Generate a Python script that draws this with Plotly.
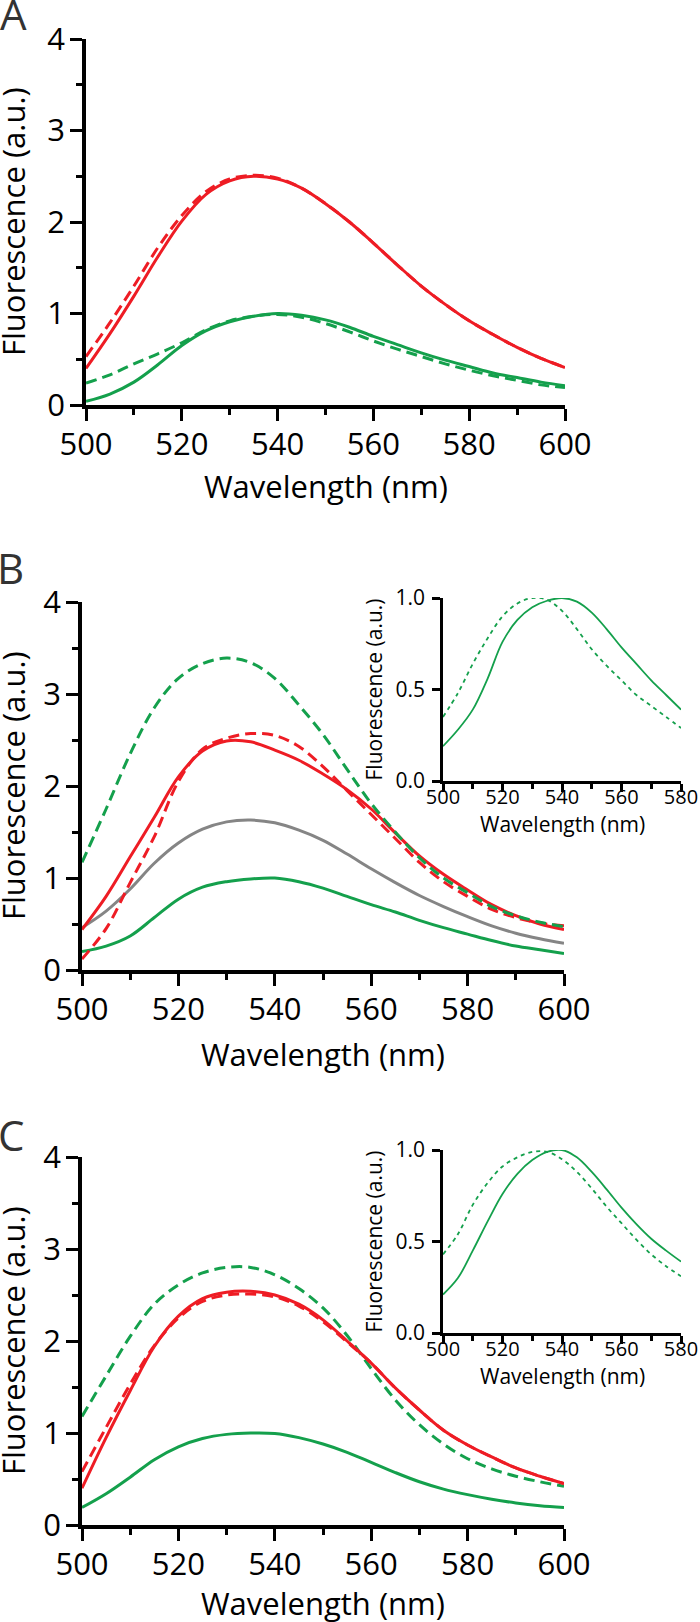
import plotly.graph_objects as go

# ---------------- data ----------------
wl = [500, 505, 510, 515, 520, 525, 530, 535, 540, 545, 550,
      555, 560, 565, 570, 575, 580, 585, 590, 595, 600]
wl_inset = [500, 505, 510, 515, 520, 525, 530, 535, 540, 545, 550,
            555, 560, 565, 570, 575, 580]

# Panel A
a_red_solid = [0.40, 0.78, 1.19, 1.62, 2.01, 2.30, 2.45, 2.50, 2.47, 2.37, 2.20,
               2.00, 1.77, 1.53, 1.30, 1.10, 0.92, 0.77, 0.63, 0.51, 0.41]
a_red_dash = [0.53, 0.90, 1.30, 1.72, 2.07, 2.33, 2.47, 2.51, 2.48, 2.37, 2.20,
              2.00, 1.77, 1.53, 1.30, 1.10, 0.92, 0.77, 0.63, 0.51, 0.41]
a_green_solid = [0.04, 0.12, 0.25, 0.44, 0.65, 0.81, 0.91, 0.97, 1.00, 0.98, 0.93,
                 0.85, 0.75, 0.66, 0.57, 0.49, 0.42, 0.35, 0.30, 0.25, 0.21]
a_green_dash = [0.24, 0.33, 0.45, 0.56, 0.68, 0.82, 0.92, 0.97, 0.99, 0.96, 0.89,
                0.80, 0.70, 0.61, 0.53, 0.45, 0.38, 0.32, 0.27, 0.22, 0.19]

# Panel B
b_green_dash = [1.17, 1.75, 2.35, 2.85, 3.17, 3.33, 3.39, 3.34, 3.17, 2.88, 2.56,
                2.18, 1.81, 1.50, 1.22, 1.00, 0.84, 0.69, 0.59, 0.52, 0.47]
b_red_solid = [0.44, 0.80, 1.23, 1.66, 2.10, 2.38, 2.49, 2.48, 2.39, 2.28, 2.13,
               1.96, 1.75, 1.49, 1.24, 1.04, 0.87, 0.71, 0.59, 0.50, 0.44]
b_red_dash = [0.12, 0.45, 0.95, 1.45, 2.05, 2.40, 2.52, 2.57, 2.55, 2.43, 2.21,
              1.95, 1.69, 1.43, 1.17, 0.96, 0.80, 0.66, 0.57, 0.51, 0.48]
b_gray = [0.46, 0.64, 0.88, 1.16, 1.38, 1.53, 1.61, 1.63, 1.60, 1.52, 1.41,
          1.26, 1.10, 0.95, 0.81, 0.69, 0.58, 0.48, 0.40, 0.34, 0.29]
b_green_solid = [0.20, 0.26, 0.37, 0.57, 0.77, 0.90, 0.96, 0.99, 1.00, 0.96, 0.89,
                 0.80, 0.71, 0.63, 0.54, 0.46, 0.39, 0.32, 0.26, 0.22, 0.18]
b_inset_solid = [0.19, 0.28, 0.39, 0.56, 0.76, 0.88, 0.95, 0.985, 1.00, 0.98, 0.92,
                 0.83, 0.73, 0.64, 0.55, 0.47, 0.39]
b_inset_dash = [0.35, 0.48, 0.64, 0.78, 0.90, 0.97, 1.00, 0.99, 0.93, 0.83, 0.72,
                0.63, 0.55, 0.47, 0.41, 0.35, 0.29]

# Panel C
c_green_dash = [1.18, 1.62, 2.05, 2.40, 2.61, 2.74, 2.80, 2.80, 2.72, 2.57, 2.36,
                2.06, 1.70, 1.36, 1.09, 0.88, 0.72, 0.61, 0.53, 0.47, 0.42]
c_red_solid = [0.40, 0.95, 1.46, 1.94, 2.27, 2.46, 2.53, 2.54, 2.50, 2.40, 2.23,
               2.00, 1.76, 1.49, 1.25, 1.03, 0.87, 0.74, 0.62, 0.53, 0.45]
c_red_dash = [0.58, 1.06, 1.53, 1.95, 2.25, 2.43, 2.50, 2.51, 2.48, 2.38, 2.21,
              1.99, 1.76, 1.49, 1.25, 1.03, 0.87, 0.74, 0.62, 0.53, 0.45]
c_green_solid = [0.19, 0.34, 0.52, 0.71, 0.85, 0.94, 0.985, 1.00, 0.995, 0.95, 0.88,
                 0.79, 0.68, 0.57, 0.47, 0.39, 0.33, 0.28, 0.24, 0.21, 0.19]
c_inset_solid = [0.21, 0.30, 0.45, 0.61, 0.76, 0.87, 0.945, 0.99, 1.00, 0.96, 0.88,
                 0.785, 0.685, 0.595, 0.515, 0.45, 0.39]
c_inset_dash = [0.43, 0.54, 0.70, 0.82, 0.91, 0.96, 0.99, 0.99, 0.95, 0.88, 0.79,
                0.69, 0.60, 0.51, 0.43, 0.365, 0.31]

main_xticks = [500, 520, 540, 560, 580, 600]
main_yticks = [0, 1, 2, 3, 4]
inset_xticks = [500, 520, 540, 560, 580]
inset_yticks = [0.0, 0.5, 1.0]
xtitle = "Wavelength (nm)"
ytitle = "Fluorescence (a.u.)"

# ---------------- style ----------------
W, H = 700, 1622
RED = "#ee1c24"
GREEN = "#14a04c"
GRAY = "#858585"
FONT = "Open Sans"


def dom_x(x0, x1):
    return [x0 / W, x1 / W]


def dom_y(y_top, y_bot):
    return [1 - y_bot / H, 1 - y_top / H]


fig = go.Figure()


def add_line(x, y, color, dash, xa, ya, width):
    fig.add_trace(go.Scatter(
        x=x, y=y, mode="lines", xaxis=xa, yaxis=ya,
        line=dict(color=color, width=width, dash=dash, shape="spline", smoothing=1.0),
        showlegend=False, hoverinfo="skip"))


MAIN_DASH = "11px,6px"
IN_DASH = "4px,4px"

# A
add_line(wl, a_green_dash, GREEN, MAIN_DASH, "x", "y", 3)
add_line(wl, a_green_solid, GREEN, "solid", "x", "y", 3)
add_line(wl, a_red_dash, RED, MAIN_DASH, "x", "y", 3)
add_line(wl, a_red_solid, RED, "solid", "x", "y", 3)
# B
add_line(wl, b_gray, GRAY, "solid", "x2", "y2", 3)
add_line(wl, b_green_solid, GREEN, "solid", "x2", "y2", 3)
add_line(wl, b_red_solid, RED, "solid", "x2", "y2", 3)
add_line(wl, b_red_dash, RED, MAIN_DASH, "x2", "y2", 3)
add_line(wl, b_green_dash, GREEN, MAIN_DASH, "x2", "y2", 3)
# C
add_line(wl, c_green_solid, GREEN, "solid", "x3", "y3", 3)
add_line(wl, c_green_dash, GREEN, MAIN_DASH, "x3", "y3", 3)
add_line(wl, c_red_dash, RED, MAIN_DASH, "x3", "y3", 3)
add_line(wl, c_red_solid, RED, "solid", "x3", "y3", 3)
# insets
add_line(wl_inset, b_inset_dash, GREEN, IN_DASH, "x4", "y4", 1.8)
add_line(wl_inset, b_inset_solid, GREEN, "solid", "x4", "y4", 1.8)
add_line(wl_inset, c_inset_dash, GREEN, IN_DASH, "x5", "y5", 1.8)
add_line(wl_inset, c_inset_solid, GREEN, "solid", "x5", "y5", 1.8)


def main_x(domain, anchor):
    return dict(domain=domain, anchor=anchor, range=[500, 600], tickvals=main_xticks,
                ticks="outside", ticklen=12, tickwidth=3, tickcolor="black",
                showline=True, linewidth=3.5, linecolor="black", showgrid=False,
                zeroline=False, tickfont=dict(family=FONT, size=31, color="black"),
                ticklabelstandoff=-3, automargin=False, ticklabeloverflow="allow",
                minor=dict(ticks="outside", ticklen=6, tickwidth=3, tickcolor="black",
                           dtick=10, tick0=500, showgrid=False))


def main_y(domain, anchor):
    return dict(domain=domain, anchor=anchor, range=[0, 4], tickvals=main_yticks,
                ticks="outside", ticklen=12, tickwidth=3, tickcolor="black",
                showline=True, linewidth=3.5, linecolor="black", showgrid=False,
                zeroline=False, tickfont=dict(family=FONT, size=31, color="black"),
                ticklabelstandoff=-1, automargin=False, ticklabeloverflow="allow",
                minor=dict(ticks="outside", ticklen=6, tickwidth=3, tickcolor="black",
                           dtick=0.5, tick0=0, showgrid=False))


def inset_x(domain, anchor):
    return dict(domain=domain, anchor=anchor, range=[500, 580], tickvals=inset_xticks,
                ticks="outside", ticklen=8, tickwidth=2.5, tickcolor="black",
                showline=True, linewidth=2.5, linecolor="black", showgrid=False,
                zeroline=False, tickfont=dict(family=FONT, size=20, color="black"),
                ticklabelstandoff=-12, automargin=False, ticklabeloverflow="allow",
                minor=dict(ticks="outside", ticklen=5, tickwidth=2.5, tickcolor="black",
                           dtick=10, tick0=500, showgrid=False))


def inset_y(domain, anchor):
    return dict(domain=domain, anchor=anchor, range=[0, 1], tickvals=inset_yticks,
                tickformat=".1f", ticks="outside", ticklen=8, tickwidth=2.5,
                tickcolor="black", showline=True, linewidth=2.5, linecolor="black",
                showgrid=False, zeroline=False, automargin=False,
                ticklabeloverflow="allow",
                tickfont=dict(family=FONT, size=21, color="black"),
                ticklabelstandoff=3)


A_box = (86, 565, 39, 405)
B_box = (82, 564, 602, 970)
C_box = (82, 564, 1157, 1525)
BI_box = (443, 681, 598, 781)
CI_box = (443, 681, 1150, 1333)

fig.update_layout(
    width=W, height=H,
    margin=dict(l=0, r=0, t=0, b=0, pad=0, autoexpand=False),
    paper_bgcolor="white", plot_bgcolor="rgba(0,0,0,0)", showlegend=False,
    xaxis=main_x(dom_x(A_box[0], A_box[1]), "y"),
    yaxis=main_y(dom_y(A_box[2], A_box[3]), "x"),
    xaxis2=main_x(dom_x(B_box[0], B_box[1]), "y2"),
    yaxis2=main_y(dom_y(B_box[2], B_box[3]), "x2"),
    xaxis3=main_x(dom_x(C_box[0], C_box[1]), "y3"),
    yaxis3=main_y(dom_y(C_box[2], C_box[3]), "x3"),
    xaxis4=inset_x(dom_x(BI_box[0], BI_box[1]), "y4"),
    yaxis4=inset_y(dom_y(BI_box[2], BI_box[3]), "x4"),
    xaxis5=inset_x(dom_x(CI_box[0], CI_box[1]), "y5"),
    yaxis5=inset_y(dom_y(CI_box[2], CI_box[3]), "x5"),
)


def ann(text, x, y, size, color="black", angle=0):
    fig.add_annotation(text=text, x=x / W, y=1 - y / H, xref="paper", yref="paper",
                       showarrow=False, textangle=angle, xanchor="center",
                       yanchor="middle", borderpad=0,
                       font=dict(family=FONT, size=size, color=color))


# panel letters
ann("A", 13, 14, 42, "#333333")
ann("B", 10, 567, 42, "#333333")
ann("C", 11, 1134, 42, "#333333")

# main axis titles
for (x0, x1, y0, y1), ty in [(A_box, 486), (B_box, 1054), (C_box, 1603)]:
    ann(xtitle, (x0 + x1) / 2, ty, 31)
    ann(ytitle, 13, (y0 + y1) / 2, 31, angle=-90)

# inset titles
for (x0, x1, y0, y1), ty in [(BI_box, 824), (CI_box, 1376)]:
    ann(xtitle, (x0 + x1) / 2, ty, 21)
    ann(ytitle, 373, (y0 + y1) / 2, 21, angle=-90)

fig.write_html("out.html",
               config={"displayModeBar": False},
               post_script="document.body.style.margin='0';"
                           "document.body.style.padding='0';"
                           "document.documentElement.style.overflow='hidden';")
